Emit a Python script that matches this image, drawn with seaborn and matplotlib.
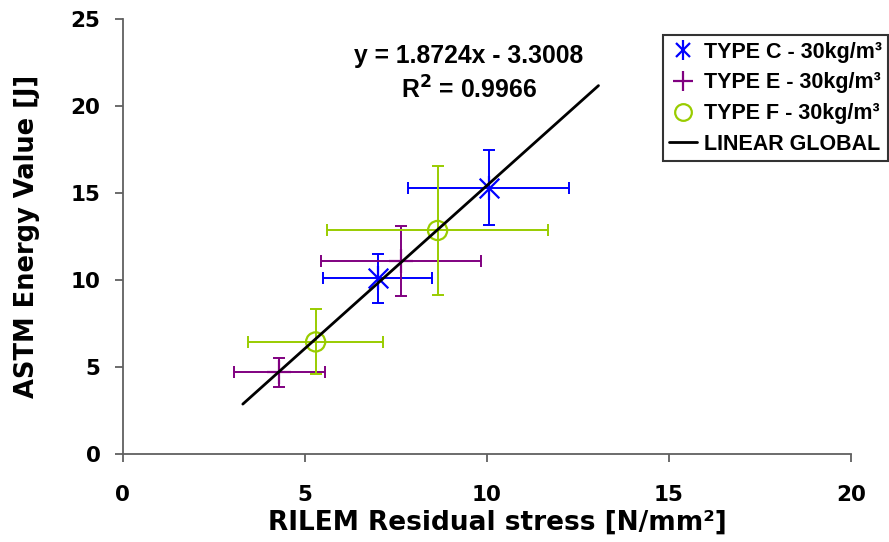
import numpy as np
import pandas as pd
import matplotlib
matplotlib.use("Agg")
import matplotlib.pyplot as plt
from matplotlib.legend_handler import HandlerTuple
import seaborn as sns

# data
types = ["TYPE C - 30kg/m³", "TYPE E - 30kg/m³", "TYPE F - 30kg/m³"]
c_x = [7.0, 10.05]
c_y = [10.1, 15.3]
c_xerr = [1.5, 2.2]
c_yerr = [1.4, 2.15]
e_x = [4.3, 7.65]
e_y = [4.7, 11.1]
e_xerr = [1.25, 2.2]
e_yerr = [0.85, 2.0]
f_x = [5.3, 8.65]
f_y = [6.45, 12.85]
f_xerr = [1.85, 3.03]
f_yerr = [1.87, 3.7]
slope = 1.8724
intercept = -3.3008
line_x = [3.3, 13.07]

colors = ["#0000ff", "#800080", "#99cc00"]

sns.set_style("white")
plt.rcParams["font.family"] = ["DejaVu Sans"]
plt.rcParams["text.color"] = "black"
plt.rcParams["axes.labelcolor"] = "black"
arial = ["Liberation Sans", "DejaVu Sans"]

fig = plt.figure(figsize=(8.89, 5.42), dpi=100)
ax = fig.add_axes([0.138, 0.162, 0.819, 0.803])

rows = []
for name, xs, ys in zip(types, [c_x, e_x, f_x], [c_y, e_y, f_y]):
    for xv, yv in zip(xs, ys):
        rows.append({"type": name, "x": xv, "y": yv})
df = pd.DataFrame(rows)

groups = [(c_x, c_y, c_xerr, c_yerr), (e_x, e_y, e_xerr, e_yerr), (f_x, f_y, f_xerr, f_yerr)]
for (xs, ys, xe, ye), col in zip(groups, colors):
    ax.errorbar(xs, ys, xerr=xe, yerr=ye, fmt="none", ecolor=col, elinewidth=1.4,
                capsize=4, capthick=1.4, zorder=2)

# TYPE C: asterisk = x + vertical bar
sub = df[df["type"] == types[0]]
sns.scatterplot(data=sub, x="x", y="y", marker="x", s=200, color=colors[0], linewidth=1.6, ax=ax, zorder=3)
sns.scatterplot(data=sub, x="x", y="y", marker="|", s=300, color=colors[0], linewidth=1.6, ax=ax, zorder=3)
# TYPE E: plus
sub = df[df["type"] == types[1]]
sns.scatterplot(data=sub, x="x", y="y", marker="+", s=300, color=colors[1], linewidth=1.6, ax=ax, zorder=3)
# TYPE F: open circle
sub = df[df["type"] == types[2]]
sns.scatterplot(data=sub, x="x", y="y", marker="o", s=190, facecolor="none", edgecolor=colors[2],
                linewidth=1.6, ax=ax, zorder=3)

lx = np.array(line_x)
sns.lineplot(x=lx, y=slope * lx + intercept, color="black", linewidth=2, ax=ax, zorder=4)

h_c = (plt.Line2D([], [], marker="x", color=colors[0], ls="none", ms=10, mew=1.6),
       plt.Line2D([], [], marker="|", color=colors[0], ls="none", ms=14, mew=1.6))
h_e = plt.Line2D([], [], marker="+", color=colors[1], ls="none", ms=15, mew=1.6)
h_f = plt.Line2D([], [], marker="o", color=colors[2], mfc="none", ls="none", ms=12, mew=1.6)
h_l = plt.Line2D([], [], color="black", lw=2)

ax.text(9.5, 22.9, "y = 1.8724x - 3.3008", ha="center", va="center", fontsize=17.8,
        fontweight="bold", family=arial, color="black")
ax.text(9.5, 20.9, "R$^\\mathbf{2}$ = 0.9966", ha="center", va="center", fontsize=17.8,
        fontweight="bold", family=arial, color="black")

ax.set_xlim(0, 20)
ax.set_ylim(0, 25)
ax.set_xticks([0, 5, 10, 15, 20])
ax.set_yticks([0, 5, 10, 15, 20, 25])
ax.tick_params(axis="both", labelsize=15.5, length=6, direction="out", width=1.3,
               color="#606060", labelcolor="black", left=True, bottom=True)
ax.tick_params(axis="x", pad=16)
ax.tick_params(axis="y", pad=10)
for lab in ax.get_xticklabels() + ax.get_yticklabels():
    lab.set_fontweight("bold")
ax.set_xlabel("RILEM Residual stress [N/mm²]", fontsize=19, fontweight="bold", color="black")
ax.set_ylabel("ASTM Energy Value [J]", fontsize=18.5, fontweight="bold", labelpad=22, color="black")
ax.xaxis.set_label_coords(0.514, -0.127)
sns.despine(ax=ax)
for s in ["left", "bottom"]:
    ax.spines[s].set_color("#606060")
    ax.spines[s].set_linewidth(1.3)

leg = ax.legend([h_c, h_e, h_f, h_l], types + ["LINEAR GLOBAL"], loc="upper right",
                bbox_to_anchor=(0.999, 0.935), bbox_transform=fig.transFigure,
                handler_map={tuple: HandlerTuple(ndivide=1, pad=0)},
                prop={"family": arial, "weight": "bold", "size": 15.5},
                frameon=True, fancybox=False, edgecolor="black",
                handlelength=1.3, handletextpad=0.3, borderpad=0.3, labelspacing=0.45,
                borderaxespad=0)
leg.get_frame().set_linewidth(1.5)
for t in leg.get_texts():
    t.set_color("black")

fig.savefig("out.png", dpi=100)
